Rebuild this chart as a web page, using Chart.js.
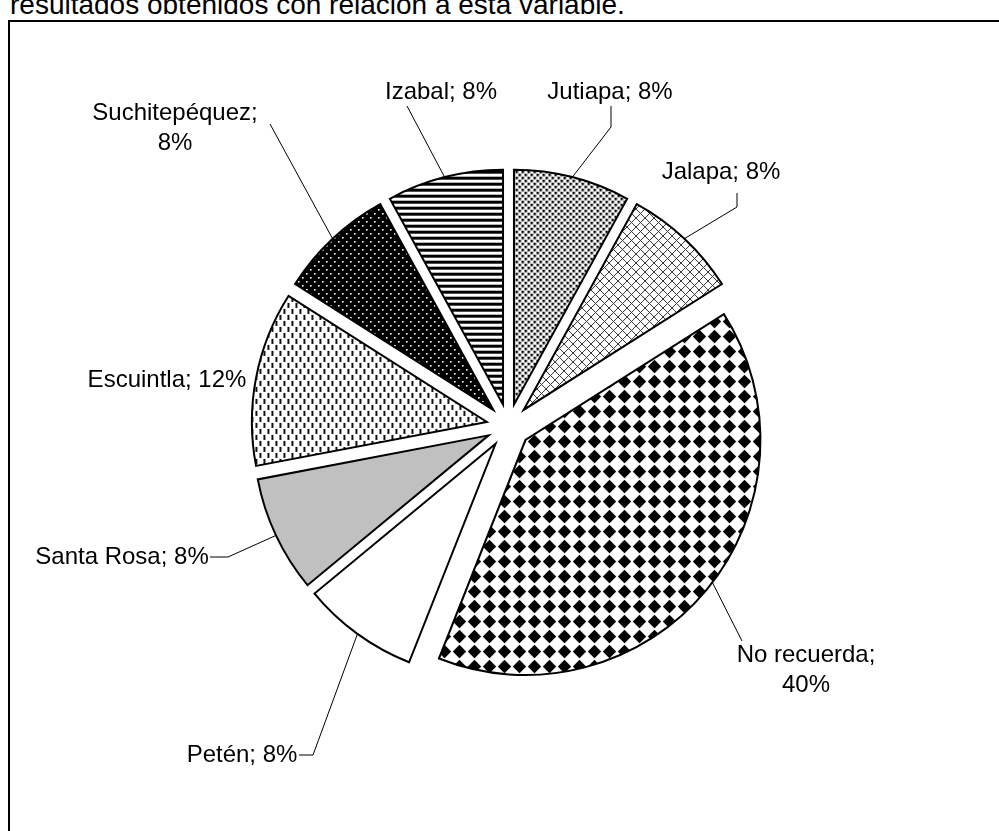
<!DOCTYPE html>
<html>
<head>
<meta charset="utf-8">
<script src="https://cdn.jsdelivr.net/npm/chart.js@4"></script>
<style>
    html, body { margin: 0; padding: 0; background: #fff; overflow: hidden; }
    body { width: 999px; height: 831px; position: relative; }
    .intro {
        position: absolute; left: 10px; top: -9px; margin: 0;
        font: 28px/1 "Liberation Sans", Arial, sans-serif; color: #000; white-space: nowrap;
    }
    .frame {
        position: absolute; left: 8px; top: 20px; width: 1100px; height: 900px;
        border-left: 2px solid #000; border-top: 2px solid #000;
    }
    #chart-origen { position: absolute; left: 0; top: 0; }
</style>
</head>
<body>
<p class="intro">resultados obtenidos con relación a esta variable.</p>
<div class="frame"></div>
<canvas id="chart-origen" width="999" height="831"></canvas>

<script>
const categories = ['Jutiapa', 'Jalapa', 'No recuerda', 'Petén', 'Santa Rosa', 'Escuintla', 'Suchitepéquez', 'Izabal'];
const percentages = [8, 8, 40, 8, 8, 12, 8, 8];

// where each label sits, and the bends of its leader line (label side first)
const labelSpots = [
    { x: 610, y: 92, leader: [[611, 106], [611, 127]] },
    { x: 721, y: 172, leader: [[737, 193], [737, 207]] },
    { x: 806, y: 655, wrap: true, leader: [[742, 641]], turn: 0.04 },
    { x: 242, y: 755, leader: [[299, 755], [313, 755]] },
    { x: 122, y: 557, leader: [[210, 557], [228, 557]] },
    { x: 167, y: 380 },
    { x: 175, y: 113, wrap: true, leader: [[270, 124]] },
    { x: 441, y: 92, leader: [[407, 106]] }
];

const EXPLODE = 22;
const LABEL_FONT = '24px "Liberation Sans", Arial, sans-serif';
const LINE_H = 30;

const ctx = document.getElementById('chart-origen').getContext('2d');

function tile(w, h, paint) {
    const c = document.createElement('canvas');
    c.width = w;
    c.height = h;
    paint(c.getContext('2d'), w, h);
    return ctx.createPattern(c, 'repeat');
}

const fills = [
    // small dots
    tile(6, 6, (g) => {
        g.fillStyle = '#fff'; g.fillRect(0, 0, 6, 6);
        g.fillStyle = '#000'; g.fillRect(0, 0, 2.5, 2.5); g.fillRect(3, 3, 2.5, 2.5);
    }),
    // diagonal cross hatch
    tile(9, 9, (g, w, h) => {
        g.fillStyle = '#fff'; g.fillRect(0, 0, w, h);
        g.strokeStyle = '#333'; g.lineWidth = 1;
        for (const d of [-w, 0, w]) {
            g.beginPath(); g.moveTo(d, 0); g.lineTo(d + w, h); g.stroke();
            g.beginPath(); g.moveTo(d + w, 0); g.lineTo(d, h); g.stroke();
        }
    }),
    // large diamonds
    tile(15, 15, (g) => {
        g.fillStyle = '#fff'; g.fillRect(0, 0, 15, 15);
        g.fillStyle = '#000';
        g.beginPath(); g.moveTo(7.5, 0.8); g.lineTo(14.2, 7.5); g.lineTo(7.5, 14.2); g.lineTo(0.8, 7.5); g.closePath(); g.fill();
    }),
    '#ffffff',
    '#c0c0c0',
    // short vertical dashes
    tile(8, 12, (g) => {
        g.fillStyle = '#fff'; g.fillRect(0, 0, 8, 12);
        g.fillStyle = '#111'; g.fillRect(1, 1, 2, 5); g.fillRect(5, 7, 2, 5);
    }),
    // white dots on black
    tile(8, 8, (g) => {
        g.fillStyle = '#000'; g.fillRect(0, 0, 8, 8);
        g.fillStyle = '#fff'; g.fillRect(1, 1, 1.6, 1.6); g.fillRect(5, 5, 1.6, 1.6);
    }),
    // horizontal stripes
    tile(1, 6, (g) => {
        g.fillStyle = '#fff'; g.fillRect(0, 0, 1, 6);
        g.fillStyle = '#000'; g.fillRect(0, 0, 1, 3);
    })
];

// pull every slice out from the centre by the same distance
const explodePlugin = {
    id: 'explode',
    beforeDatasetDraw(chart, args) {
        const c = chart.ctx;
        args.meta.data.forEach(arc => {
            const mid = (arc.startAngle + arc.endAngle) / 2;
            c.save();
            c.translate(Math.cos(mid) * EXPLODE, Math.sin(mid) * EXPLODE);
            arc.draw(c);
            c.restore();
        });
        return false;
    }
};

const labelPlugin = {
    id: 'sliceLabels',
    afterDatasetsDraw(chart) {
        const c = chart.ctx;
        const arcs = chart.getDatasetMeta(0).data;
        c.save();
        c.font = LABEL_FONT;
        c.fillStyle = '#000';
        c.textAlign = 'center';
        c.textBaseline = 'middle';
        c.strokeStyle = '#000';
        c.lineWidth = 1;
        arcs.forEach((arc, i) => {
            const spot = labelSpots[i];
            const lines = spot.wrap
                ? [categories[i] + ';', percentages[i] + '%']
                : [categories[i] + '; ' + percentages[i] + '%'];
            lines.forEach((t, k) => c.fillText(t, spot.x, spot.y + k * LINE_H));

            if (spot.leader) {
                // leader meets the rim near the middle of the slice
                const mid = (arc.startAngle + arc.endAngle) / 2;
                const at = mid - (spot.turn || 0);
                const reach = arc.outerRadius;
                const cx = arc.x + Math.cos(mid) * EXPLODE;
                const cy = arc.y + Math.sin(mid) * EXPLODE;
                c.beginPath();
                spot.leader.forEach(([x, y], k) => k ? c.lineTo(x, y) : c.moveTo(x, y));
                c.lineTo(cx + Math.cos(at) * reach, cy + Math.sin(at) * reach);
                c.stroke();
            }
        });
        c.restore();
    }
};

new Chart(ctx, {
    type: 'pie',
    data: {
        labels: categories,
        datasets: [{
            data: percentages,
            backgroundColor: fills,
            borderColor: '#000',
            borderWidth: 2,
            borderJoinStyle: 'miter'
        }]
    },
    options: {
        responsive: false,
        animation: false,
        events: [],
        radius: 235,
        layout: { padding: { left: 18, right: 0, top: 21, bottom: 0 } },
        plugins: {
            legend: { display: false },
            tooltip: { enabled: false }
        }
    },
    plugins: [explodePlugin, labelPlugin]
});
</script>
</body>
</html>
